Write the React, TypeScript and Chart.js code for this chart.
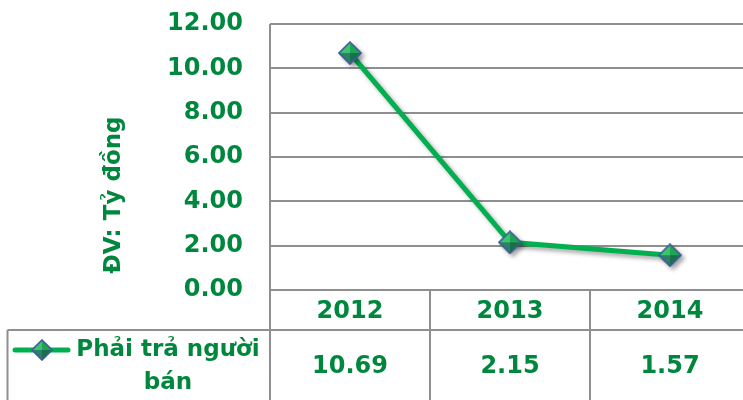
import React, { useEffect, useRef } from "react";
import { Chart, registerables } from "chart.js";

Chart.register(...registerables);

const categories = ["2012", "2013", "2014"];
const seriesName = ["Phải trả người", "bán"];
const values = [10.69, 2.15, 1.57];
const yTicks = [0, 2, 4, 6, 8, 10, 12];
const yTitle = "ĐV: Tỷ đồng";

const FONT = "'DejaVu Sans', Verdana, sans-serif";
const TEXT_GREEN = "#00873E";
const LINE_GREEN = "#00B050";
const GRID = "#8f8f8f";

function makeMarker(size: number): HTMLCanvasElement {
  const c = document.createElement("canvas");
  c.width = size;
  c.height = size;
  const g = c.getContext("2d")!;
  const m = size / 2;
  const r = size / 2 - 1;
  const T = [m, m - r], R = [m + r, m], B = [m, m + r], L = [m - r, m];
  const C = [m, m];
  const face = (a: number[], b: number[], col: string) => {
    g.beginPath();
    g.moveTo(C[0], C[1]);
    g.lineTo(a[0], a[1]);
    g.lineTo(b[0], b[1]);
    g.closePath();
    g.fillStyle = col;
    g.fill();
  };
  face(L, T, "#3cc46c");
  face(T, R, "#1ea452");
  face(R, B, "#17724a");
  face(B, L, "#2e7f6a");
  g.beginPath();
  g.moveTo(T[0], T[1]);
  g.lineTo(R[0], R[1]);
  g.lineTo(B[0], B[1]);
  g.lineTo(L[0], L[1]);
  g.closePath();
  g.strokeStyle = "#3d5d98";
  g.lineWidth = 1.6;
  g.stroke();
  return c;
}

export default function App() {
  const ref = useRef<HTMLCanvasElement | null>(null);

  useEffect(() => {
    if (!ref.current) return;
    const marker = makeMarker(24);
    const legendMarker = makeMarker(22);

    const shadowPlugin = {
      id: "shadow",
      beforeDatasetsDraw(chart: any) {
        const ctx = chart.ctx;
        ctx.save();
        ctx.shadowColor = "rgba(0,0,0,0.35)";
        ctx.shadowBlur = 4;
        ctx.shadowOffsetX = 3;
        ctx.shadowOffsetY = 3;
      },
      afterDatasetsDraw(chart: any) {
        chart.ctx.restore();
      },
    };

    const tablePlugin = {
      id: "table",
      afterDraw(chart: any) {
        const ctx = chart.ctx;
        const area = chart.chartArea;
        const xs = chart.scales.x;
        const H = chart.height;
        const n = categories.length;
        const rowTop = area.bottom + 40;
        ctx.save();
        ctx.strokeStyle = GRID;
        ctx.lineWidth = 2;
        ctx.beginPath();
        ctx.moveTo(area.left, area.top);
        ctx.lineTo(area.left, H);
        for (let i = 1; i <= n; i++) {
          const x = xs.getPixelForValue(i - 0.5);
          ctx.moveTo(x, area.bottom);
          ctx.lineTo(x, H);
        }
        ctx.moveTo(7.5, rowTop);
        ctx.lineTo(chart.width, rowTop);
        ctx.moveTo(7.5, rowTop);
        ctx.lineTo(7.5, H);
        ctx.stroke();

        ctx.fillStyle = TEXT_GREEN;
        ctx.font = `bold 24px ${FONT}`;
        ctx.textAlign = "center";
        ctx.textBaseline = "middle";
        values.forEach((v, i) => {
          ctx.fillText(v.toFixed(2), xs.getPixelForValue(i), rowTop + 37);
        });

        ctx.strokeStyle = LINE_GREEN;
        ctx.lineWidth = 5;
        ctx.lineCap = "round";
        ctx.beginPath();
        ctx.moveTo(15, rowTop + 20);
        ctx.lineTo(68, rowTop + 20);
        ctx.stroke();
        ctx.drawImage(legendMarker, 42 - 11, rowTop + 20 - 11);
        ctx.font = `bold 23px ${FONT}`;
        ctx.fillStyle = TEXT_GREEN;
        ctx.textAlign = "center";
        ctx.fillText(seriesName[0], 168, rowTop + 20);
        ctx.fillText(seriesName[1], 168, rowTop + 53);

        ctx.translate(114, 195);
        ctx.rotate(-Math.PI / 2);
        ctx.font = `bold 23px ${FONT}`;
        ctx.fillText(yTitle, 0, 0);
        ctx.restore();
      },
    };

    const chart = new Chart(ref.current, {
      type: "line",
      data: {
        labels: categories,
        datasets: [
          {
            label: seriesName.join(" "),
            data: values,
            borderColor: LINE_GREEN,
            borderWidth: 5,
            pointStyle: marker as any,
            pointRadius: 12,
            tension: 0,
            clip: false as any,
          },
        ],
      },
      options: {
        responsive: false,
        animation: false,
        layout: {
          autoPadding: false,
          padding: { top: 24, right: 2, left: 0, bottom: 0 },
        },
        plugins: {
          legend: { display: false },
          tooltip: { enabled: false },
        },
        scales: {
          x: {
            type: "category",
            offset: true,
            grid: { display: false, drawTicks: false },
            border: { display: false },
            ticks: {
              color: TEXT_GREEN,
              font: { family: FONT, size: 24, weight: "bold" },
              padding: 7,
              maxRotation: 0,
            },
            afterFit: (s: any) => {
              s.height = 110;
              s.paddingLeft = 0;
              s.paddingRight = 0;
            },
          },
          y: {
            min: 0,
            max: 12,
            afterBuildTicks: (s: any) => {
              s.ticks = yTicks.map((v) => ({ value: v }));
            },
            grid: { color: GRID, lineWidth: 2, drawTicks: false },
            border: { display: false },
            ticks: {
              color: TEXT_GREEN,
              font: { family: FONT, size: 24, weight: "bold" },
              padding: 27,
              callback: (v: any) => Number(v).toFixed(2),
            },
            afterFit: (s: any) => {
              s.width = 270;
              s.paddingTop = 0;
              s.paddingBottom = 0;
            },
          },
        },
      },
      plugins: [shadowPlugin, tablePlugin],
    });
    return () => chart.destroy();
  }, []);

  return (
    <div
      style={{
        position: "fixed",
        left: 0,
        top: 0,
        width: 743,
        height: 400,
        overflow: "hidden",
        background: "#fff",
      }}
    >
      <div style={{ width: 752, height: 400, position: "relative" }}>
        <canvas
          ref={ref}
          width={752}
          height={400}
          style={{ display: "block", width: 752, height: 400 }}
        />
      </div>
    </div>
  );
}
